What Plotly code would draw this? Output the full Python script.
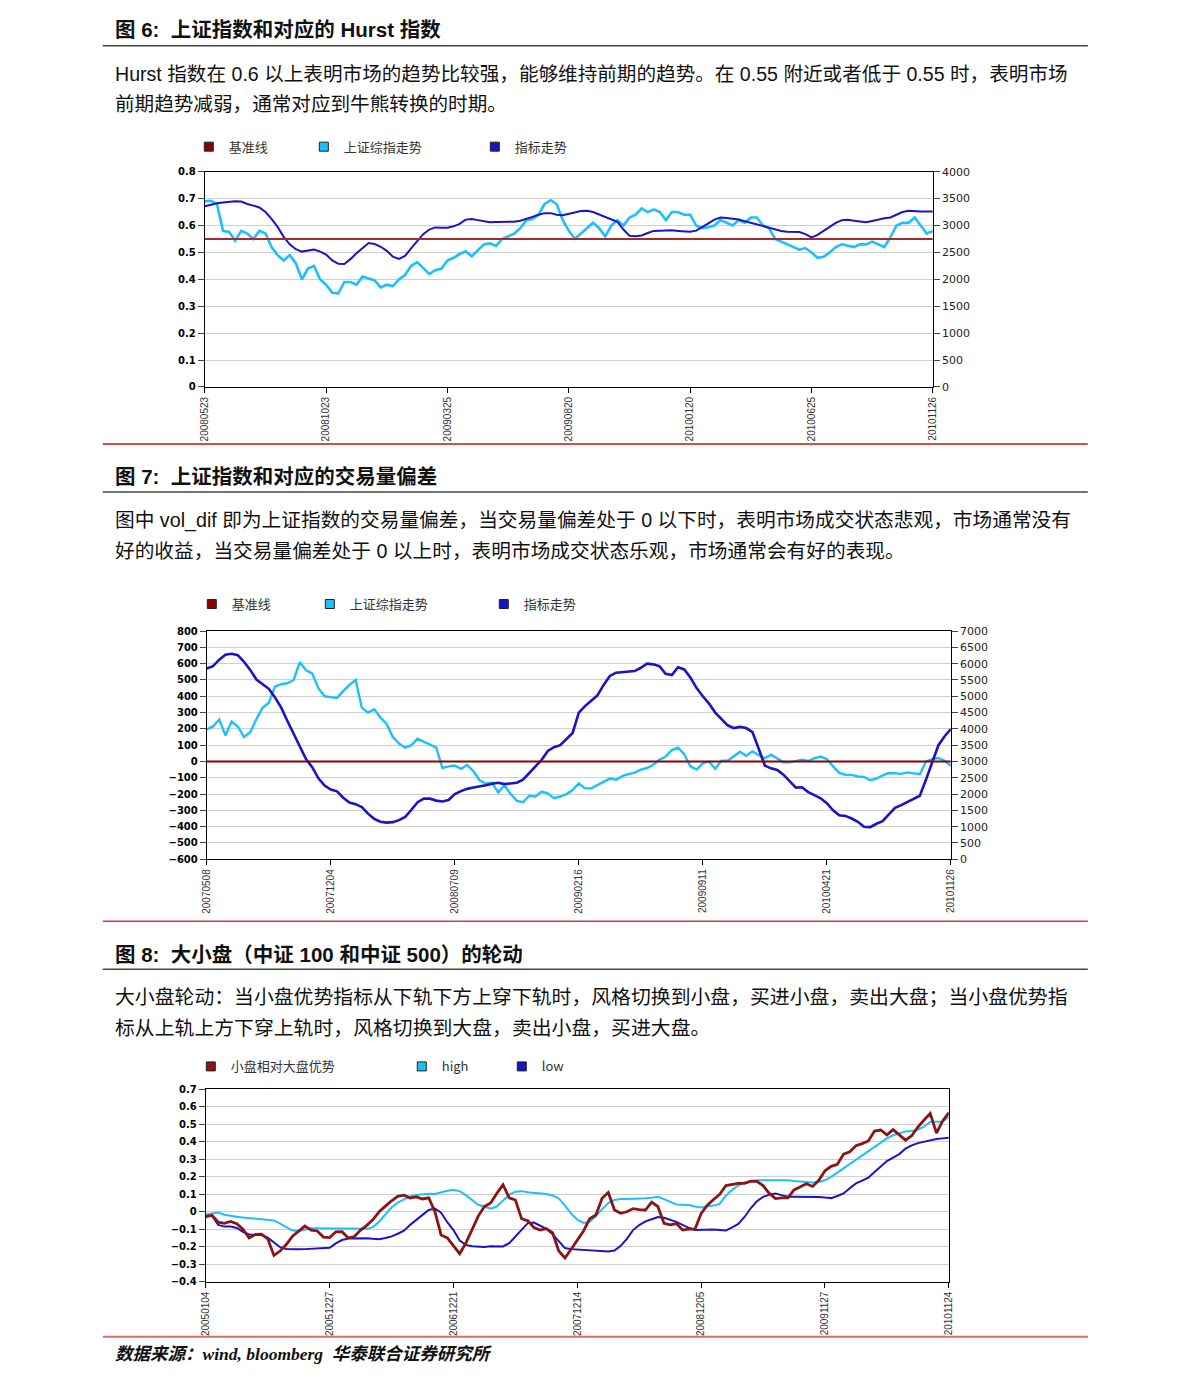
import plotly.graph_objects as go

# Figure size (the html body keeps an 8px margin).  The photographed page shows the
# figure slightly scaled and shifted; positions below are given in photographed
# pixels and mapped back to figure coordinates with the measured transform.
W, H = 1175, 1368
SCALE_X, OFF_X = 0.9906, 14.2
SCALE_Y, OFF_Y = 0.9897, 14.4

# ---------------- data ----------------
day_index = list(range(0, 601, 5))          # trading-day index (sample every 5 days)
tick_pos = [0, 100, 200, 300, 400, 500, 600]

# Figure 6 : Shanghai index and Hurst index
fig6_dates = ["20080523", "20081023", "20090325", "20090820", "20100120", "20100625", "20101126"]
fig6_baseline = 0.55
fig6_hurst = [0.672, 0.678, 0.683, 0.686, 0.688, 0.690, 0.689, 0.680, 0.674, 0.667,
              0.650, 0.625, 0.595, 0.558, 0.530, 0.512, 0.503, 0.507, 0.511, 0.503,
              0.492, 0.470, 0.458, 0.457, 0.475, 0.497, 0.517, 0.535, 0.531, 0.521,
              0.506, 0.484, 0.476, 0.487, 0.515, 0.543, 0.568, 0.585, 0.593, 0.592,
              0.592, 0.597, 0.606, 0.622, 0.624, 0.620, 0.617, 0.612, 0.613, 0.613,
              0.614, 0.614, 0.618, 0.624, 0.632, 0.640, 0.646, 0.646, 0.640, 0.638,
              0.644, 0.650, 0.654, 0.655, 0.650, 0.641, 0.632, 0.624, 0.614, 0.585,
              0.562, 0.560, 0.563, 0.572, 0.580, 0.581, 0.582, 0.582, 0.580, 0.578,
              0.577, 0.581, 0.593, 0.608, 0.622, 0.630, 0.628, 0.626, 0.622, 0.616,
              0.610, 0.605, 0.600, 0.594, 0.588, 0.580, 0.577, 0.576, 0.576, 0.568,
              0.556, 0.565, 0.580, 0.595, 0.610, 0.620, 0.621, 0.618, 0.614, 0.612,
              0.617, 0.623, 0.627, 0.630, 0.640, 0.650, 0.655, 0.653, 0.652, 0.652,
              0.652]
fig6_index = [3450, 3460, 3400, 2900, 2880, 2720, 2900, 2850, 2750, 2900,
              2850, 2600, 2450, 2350, 2450, 2300, 2000, 2200, 2250, 2000,
              1900, 1750, 1740, 1950, 1950, 1900, 2050, 2020, 1980, 1850,
              1900, 1870, 2000, 2080, 2250, 2320, 2200, 2100, 2170, 2200,
              2350, 2400, 2470, 2520, 2430, 2550, 2650, 2670, 2620, 2750,
              2800, 2850, 2950, 3100, 3120, 3200, 3400, 3470, 3400, 3100,
              2900, 2750, 2850, 2950, 3050, 2950, 2800, 3000, 3100, 3000,
              3150, 3200, 3320, 3250, 3300, 3250, 3100, 3250, 3250, 3200,
              3200, 3000, 2950, 2970, 3000, 3100, 3050, 3000, 3100, 3050,
              3150, 3150, 3000, 2950, 2750, 2700, 2650, 2600, 2550, 2580,
              2500, 2400, 2420, 2500, 2600, 2650, 2630, 2600, 2650, 2650,
              2700, 2650, 2600, 2780, 3000, 3050, 3050, 3150, 3000, 2850,
              2900]

# Figure 7 : Shanghai index and volume deviation (vol_dif)
fig7_dates = ["20070508", "20071204", "20080709", "20090216", "20090911", "20100421", "20101126"]
fig7_baseline = 0
fig7_voldif = [571, 585, 625, 655, 661, 652, 612, 562, 503, 475,
               446, 393, 330, 248, 170, 85, 15, -35, -103, -148,
               -172, -183, -222, -252, -262, -280, -320, -352, -370, -375,
               -372, -360, -340, -296, -250, -228, -228, -240, -245, -236,
               -200, -182, -168, -160, -154, -146, -137, -131, -139, -134,
               -130, -112, -73, -30, 10, 65, 88, 100, 140, 175,
               300, 340, 373, 405, 470, 525, 545, 548, 548, 555,
               575, 600, 596, 585, 538, 530, 578, 565, 515, 450,
               400, 355, 300, 262, 222, 205, 212, 205, 180, 80,
               -25, -42, -52, -81, -122, -160, -158, -188, -206, -226,
               -256, -300, -330, -334, -350, -370, -400, -403, -382, -366,
               -325, -285, -268, -250, -228, -210, -110, -5, 100, 155,
               199]
fig7_index = [3985, 4075, 4290, 3800, 4225, 4075, 3750, 3900, 4300, 4650,
              4800, 5300, 5375, 5400, 5500, 6050, 5800, 5700, 5250, 5000,
              4975, 4950, 5160, 5350, 5500, 4650, 4500, 4600, 4350, 4150,
              3750, 3550, 3425, 3500, 3700, 3600, 3500, 3425, 2800, 2850,
              2875, 2775, 2890, 2700, 2425, 2325, 2350, 2050, 2275, 2000,
              1790, 1750, 1950, 1925, 2075, 2025, 1875, 1925, 2000, 2125,
              2325, 2175, 2175, 2275, 2360, 2475, 2440, 2550, 2610, 2660,
              2750, 2800, 2900, 3050, 3150, 3350, 3425, 3225, 2850, 2750,
              2950, 3000, 2775, 3025, 3025, 3150, 3300, 3175, 3310, 3200,
              3100, 3210, 3100, 2975, 2975, 3025, 3055, 3015, 3100, 3150,
              3075, 2850, 2650, 2595, 2590, 2540, 2525, 2425, 2475, 2575,
              2645, 2640, 2620, 2665, 2640, 2610, 3000, 3075, 3105, 3025,
              2870]

# Figure 8 : large / small cap rotation
fig8_dates = ["20050104", "20051227", "20061221", "20071214", "20081205", "20091127", "20101124"]
fig8_small_adv = [-0.028, -0.020, -0.060, -0.066, -0.055, -0.068, -0.100, -0.150, -0.130, -0.128,
                  -0.155, -0.250, -0.225, -0.188, -0.140, -0.110, -0.082, -0.105, -0.110, -0.145,
                  -0.148, -0.115, -0.114, -0.150, -0.142, -0.105, -0.078, -0.045, 0.000, 0.032,
                  0.063, 0.088, 0.095, 0.078, 0.085, 0.073, 0.080, 0.000, -0.133, -0.150,
                  -0.195, -0.240, -0.180, -0.100, -0.025, 0.030, 0.050, 0.105, 0.155, 0.080,
                  0.067, -0.040, -0.052, -0.090, -0.105, -0.097, -0.120, -0.225, -0.265, -0.215,
                  -0.160, -0.110, -0.040, -0.019, 0.077, 0.110, 0.010, -0.009, 0.000, 0.018,
                  0.012, 0.010, 0.055, 0.030, -0.066, -0.075, -0.068, -0.105, -0.100, -0.100,
                  -0.010, 0.038, 0.070, 0.100, 0.150, 0.158, 0.162, 0.162, 0.175, 0.174,
                  0.150, 0.105, 0.075, 0.080, 0.080, 0.125, 0.143, 0.160, 0.145, 0.180,
                  0.235, 0.260, 0.272, 0.330, 0.343, 0.378, 0.390, 0.405, 0.462, 0.468,
                  0.440, 0.470, 0.440, 0.410, 0.435, 0.485, 0.525, 0.563, 0.450, 0.520,
                  0.568]
fig8_high = [-0.015, -0.008, -0.005, -0.017, -0.025, -0.029, -0.033, -0.036, -0.038, -0.042,
             -0.046, -0.050, -0.068, -0.088, -0.108, -0.110, -0.102, -0.095, -0.095, -0.095,
             -0.094, -0.095, -0.095, -0.095, -0.096, -0.097, -0.098, -0.088, -0.057, -0.015,
             0.024, 0.053, 0.072, 0.088, 0.096, 0.100, 0.103, 0.102, 0.112, 0.120,
             0.124, 0.118, 0.095, 0.067, 0.040, 0.030, 0.018, 0.030, 0.062, 0.098,
             0.115, 0.118, 0.112, 0.108, 0.105, 0.102, 0.093, 0.076, 0.035, -0.010,
             -0.045, -0.064, -0.058, -0.025, 0.015, 0.050, 0.068, 0.073, 0.073, 0.073,
             0.075, 0.077, 0.080, 0.086, 0.072, 0.055, 0.042, 0.040, 0.038, 0.030,
             0.024, 0.032, 0.036, 0.045, 0.093, 0.125, 0.150, 0.168, 0.176, 0.181,
             0.181, 0.181, 0.181, 0.180, 0.180, 0.176, 0.172, 0.169, 0.168, 0.170,
             0.180, 0.200, 0.225, 0.248, 0.275, 0.300, 0.323, 0.345, 0.370, 0.400,
             0.420, 0.438, 0.450, 0.460, 0.462, 0.470, 0.487, 0.515, 0.515, 0.517,
             0.544]
fig8_low = [-0.028, -0.022, -0.075, -0.085, -0.085, -0.093, -0.115, -0.130, -0.133, -0.133,
            -0.148, -0.175, -0.203, -0.213, -0.215, -0.215, -0.214, -0.212, -0.210, -0.208,
            -0.206, -0.181, -0.162, -0.153, -0.152, -0.152, -0.152, -0.155, -0.157, -0.150,
            -0.141, -0.126, -0.108, -0.075, -0.045, -0.019, 0.010, 0.018, -0.005, -0.060,
            -0.105, -0.165, -0.190, -0.198, -0.201, -0.202, -0.197, -0.198, -0.199, -0.180,
            -0.143, -0.100, -0.065, -0.062, -0.080, -0.098, -0.128, -0.170, -0.208, -0.214,
            -0.216, -0.219, -0.220, -0.221, -0.225, -0.228, -0.222, -0.195, -0.155, -0.105,
            -0.076, -0.055, -0.043, -0.030, -0.034, -0.045, -0.058, -0.075, -0.092, -0.104,
            -0.103, -0.101, -0.102, -0.104, -0.107, -0.090, -0.070, -0.030, 0.020, 0.060,
            0.085, 0.098, 0.105, 0.095, 0.086, 0.086, 0.086, 0.086, 0.086, 0.085,
            0.081, 0.078, 0.090, 0.105, 0.135, 0.162, 0.178, 0.195, 0.228, 0.260,
            0.290, 0.310, 0.330, 0.362, 0.380, 0.393, 0.402, 0.408, 0.416, 0.420,
            0.423]

for s in (fig6_hurst, fig6_index, fig7_voldif, fig7_index, fig8_small_adv, fig8_high, fig8_low):
    assert len(s) == len(day_index), len(s)

# ---------------- text ----------------
title6 = "图 6:  上证指数和对应的 Hurst 指数"
para6 = ["Hurst 指数在 0.6 以上表明市场的趋势比较强，能够维持前期的趋势。在 0.55 附近或者低于 0.55 时，表明市场",
         "前期趋势减弱，通常对应到牛熊转换的时期。"]
title7 = "图 7:  上证指数和对应的交易量偏差"
para7 = ["图中 vol_dif 即为上证指数的交易量偏差，当交易量偏差处于 0 以下时，表明市场成交状态悲观，市场通常没有",
         "好的收益，当交易量偏差处于 0 以上时，表明市场成交状态乐观，市场通常会有好的表现。"]
title8 = "图 8:  大小盘（中证 100 和中证 500）的轮动"
para8 = ["大小盘轮动：当小盘优势指标从下轨下方上穿下轨时，风格切换到小盘，买进小盘，卖出大盘；当小盘优势指",
         "标从上轨上方下穿上轨时，风格切换到大盘，卖出小盘，买进大盘。"]
footer = "数据来源：wind, bloomberg  华泰联合证券研究所"
legend6 = ["基准线", "上证综指走势", "指标走势"]
legend8 = ["小盘相对大盘优势", "high", "low"]

# ---------------- styles ----------------
C_CYAN = "#1cbfff"
C_BLUE = "#1a14c8"
C_DRED = "#8b1414"
CJK = "Liberation Sans, Noto Sans CJK SC"
LEG_FONT = dict(family="Noto Sans CJK SC", size=13, color="#333333")


def px_x(p):
    return ((p - OFF_X) / SCALE_X) / W


def px_y(p):
    return 1 - ((p - OFF_Y) / SCALE_Y) / H


fig = go.Figure()

# ---- chart 6 traces ----
fig.add_trace(go.Scatter(x=day_index, y=fig6_index, mode="lines", line=dict(color=C_CYAN, width=2.6),
                         xaxis="x", yaxis="y", showlegend=False, name=legend6[1]))
fig.add_trace(go.Scatter(x=day_index, y=fig6_hurst, mode="lines", line=dict(color=C_BLUE, width=2),
                         xaxis="x", yaxis="y2", showlegend=False, name=legend6[2]))
fig.add_trace(go.Scatter(x=[day_index[0], day_index[-1]], y=[fig6_baseline, fig6_baseline], mode="lines",
                         line=dict(color="#a52a2a", width=2), xaxis="x", yaxis="y2", showlegend=False,
                         name=legend6[0]))

# ---- chart 7 traces ----
fig.add_trace(go.Scatter(x=day_index, y=fig7_index, mode="lines", line=dict(color=C_CYAN, width=2.4),
                         xaxis="x2", yaxis="y3", showlegend=False, name=legend6[1]))
fig.add_trace(go.Scatter(x=day_index, y=fig7_voldif, mode="lines", line=dict(color=C_BLUE, width=2.6),
                         xaxis="x2", yaxis="y4", showlegend=False, name=legend6[2]))
fig.add_trace(go.Scatter(x=[day_index[0], day_index[-1]], y=[fig7_baseline, fig7_baseline], mode="lines",
                         line=dict(color="#8b0000", width=1.8), xaxis="x2", yaxis="y4", showlegend=False,
                         name=legend6[0]))

# ---- chart 8 traces ----
fig.add_trace(go.Scatter(x=day_index, y=fig8_high, mode="lines", line=dict(color=C_CYAN, width=2),
                         xaxis="x3", yaxis="y5", showlegend=False, name=legend8[1]))
fig.add_trace(go.Scatter(x=day_index, y=fig8_low, mode="lines", line=dict(color=C_BLUE, width=2),
                         xaxis="x3", yaxis="y5", showlegend=False, name=legend8[2]))
fig.add_trace(go.Scatter(x=day_index, y=fig8_small_adv, mode="lines", line=dict(color=C_DRED, width=2.8),
                         xaxis="x3", yaxis="y5", showlegend=False, name=legend8[0]))


# ---- legend entries (square swatches) ----
def legend_entry(name, color, legend, xa, ya, width):
    fig.add_trace(go.Scatter(x=[None], y=[None], mode="markers", name=name,
                             marker=dict(symbol="square", size=9, color=color, line=dict(color="#222", width=1)),
                             xaxis=xa, yaxis=ya, legend=legend, legendwidth=width, showlegend=True))


for nm, col, wd in zip(legend6, ["#8b0000", C_CYAN, C_BLUE], [70, 126, 60]):
    legend_entry(nm, col, "legend", "x", "y2", wd)
for nm, col, wd in zip(legend6, ["#8b0000", C_CYAN, C_BLUE], [73, 129, 60]):
    legend_entry(nm, col, "legend2", "x2", "y4", wd)
for nm, col, wd in zip(legend8, [C_DRED, C_CYAN, C_BLUE], [166, 55, 50]):
    legend_entry(nm, col, "legend3", "x3", "y5", wd)

# ---------------- axes ----------------
LEFT_TICK = dict(family="DejaVu Sans", size=10, color="#000", weight="bold")
RIGHT_TICK = dict(family="DejaVu Sans", size=11, color="#222")
X_TICK = dict(family="Liberation Sans", size=10, color="#333")
GRID = "#cfcfcf"


def xaxis(domain, anchor, labels):
    return dict(domain=domain, anchor=anchor, range=[0, 600], tickmode="array", tickvals=tick_pos,
                ticktext=labels, tickangle=-90, tickfont=X_TICK, showline=True, linecolor="#000",
                linewidth=1, ticks="outside", ticklen=5, tickcolor="#000", showgrid=False,
                zeroline=False, mirror=True, fixedrange=True)


fig.update_layout(
    width=W, height=H, autosize=False, margin=dict(l=0, r=0, t=0, b=0),
    paper_bgcolor="white", plot_bgcolor="white", hovermode=False,
    xaxis=xaxis([px_x(205), px_x(933)], "y", fig6_dates),
    yaxis=dict(domain=[px_y(387), px_y(172)], anchor="x", side="right", range=[0, 4000], dtick=500,
               showgrid=True, gridcolor=GRID, showline=True, linecolor="#000", ticks="outside", ticklen=6,
               tickfont=RIGHT_TICK, zeroline=False),
    yaxis2=dict(overlaying="y", anchor="x", side="left", range=[0, 0.8], dtick=0.1, showgrid=False,
                showline=True, linecolor="#000", ticks="outside", ticklen=6, tickfont=LEFT_TICK,
                zeroline=False),
    xaxis2=xaxis([px_x(207), px_x(951)], "y3", fig7_dates),
    yaxis3=dict(domain=[px_y(859), px_y(631)], anchor="x2", side="right", range=[0, 7000], dtick=500,
                showgrid=True, gridcolor=GRID, showline=True, linecolor="#000", ticks="outside", ticklen=6,
                tickfont=RIGHT_TICK, zeroline=False),
    yaxis4=dict(overlaying="y3", anchor="x2", side="left", range=[-600, 800], dtick=100, showgrid=False,
                showline=True, linecolor="#000", ticks="outside", ticklen=6, tickfont=LEFT_TICK,
                zeroline=False),
    xaxis3=xaxis([px_x(206), px_x(949)], "y5", fig8_dates),
    yaxis5=dict(domain=[px_y(1281), px_y(1089)], anchor="x3", side="left", range=[-0.4, 0.7], dtick=0.1,
                tick0=0, showgrid=True, gridcolor=GRID, showline=True, linecolor="#000", mirror=True,
                ticks="outside", ticklen=6, tickfont=LEFT_TICK, zeroline=False),
    legend=dict(orientation="h", x=px_x(189), y=px_y(147), xanchor="left", yanchor="middle",
                font=LEG_FONT, bgcolor="rgba(0,0,0,0)", borderwidth=0, itemclick=False),
    legend2=dict(orientation="h", x=px_x(192), y=px_y(604), xanchor="left", yanchor="middle",
                 font=LEG_FONT, bgcolor="rgba(0,0,0,0)", borderwidth=0, itemclick=False),
    legend3=dict(orientation="h", x=px_x(191), y=px_y(1066), xanchor="left", yanchor="middle",
                 font=LEG_FONT, bgcolor="rgba(0,0,0,0)", borderwidth=0, itemclick=False),
)


# ---------------- page text ----------------
def text(s, x, y, size, color="#111", family=CJK, weight="normal", style="normal"):
    fig.add_annotation(text=s, x=px_x(x), y=px_y(y), xref="paper", yref="paper", xanchor="left",
                       yanchor="middle", showarrow=False,
                       font=dict(family=family, size=size, color=color, weight=weight, style=style))


text(title6, 113, 30, 20.5, weight="bold")
text(para6[0], 113, 74, 19.6)
text(para6[1], 113, 104, 19.6)
text(title7, 113, 477, 20.5, weight="bold")
text(para7[0], 113, 520, 19.7)
text(para7[1], 113, 551, 19.7)
text(title8, 113, 954, 20.5, weight="bold")
text(para8[0], 113, 997, 19.85)
text(para8[1], 113, 1028, 19.85)
text(footer, 113, 1353, 17.5, family="Liberation Serif, Noto Sans CJK SC", weight="bold", style="italic")


def hline(y, color, width):
    fig.add_shape(type="line", xref="paper", yref="paper", x0=px_x(103), x1=px_x(1088),
                  y0=px_y(y), y1=px_y(y), line=dict(color=color, width=width))


hline(46, "#444444", 1.5)
hline(444, "#cc1111", 1.5)
hline(492, "#444444", 1.5)
hline(921, "#d83a3a", 1.5)
hline(969, "#444444", 1.5)
hline(1336, "#e06a6e", 2)

fig.write_html("out.html", config={"displayModeBar": False})
